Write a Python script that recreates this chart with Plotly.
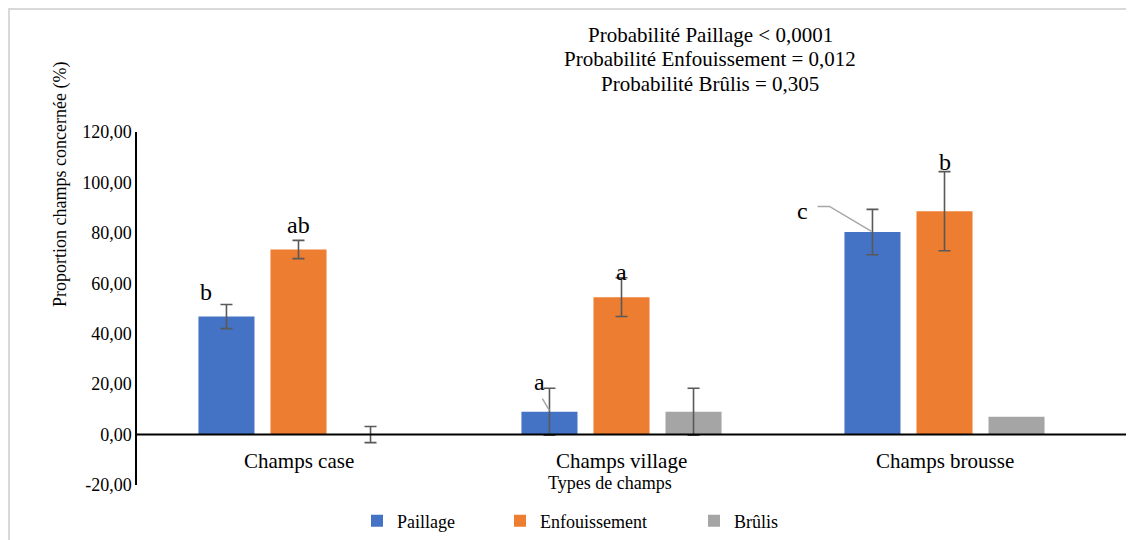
import plotly.graph_objects as go

categories = ["Champs case", "Champs village", "Champs brousse"]
series_names = ["Paillage", "Enfouissement", "Brûlis"]
paillage = [46.8, 9.1, 80.3]
paillage_err = [4.8, 9.3, 9.0]
enfouissement = [73.4, 54.5, 88.6]
enfouissement_err = [3.6, 7.7, 15.7]
brulis = [0.0, 9.1, 7.1]
brulis_err = [3.2, 9.3, "none"]   # no error bar on the last Brûlis bar
letters = ["b", "ab", "a", "a", "c", "b"]
prob_lines = ["Probabilité Paillage < 0,0001",
              "Probabilité Enfouissement = 0,012",
              "Probabilité Brûlis = 0,305"]
y_ticks = [-20, 0, 20, 40, 60, 80, 100, 120]
y_ticktext = [f"{v:.2f}".replace(".", ",") for v in y_ticks]

colors = ["#4472C4", "#ED7D31", "#A5A5A5"]
FONT = "Liberation Serif, Times New Roman, serif"

# the page body has an 8px margin: figure coords = screen coords - 8
OFF = 8
W, H = 1134 - OFF, 540 - OFF
# plot-area geometry in screen px
SL, SR, ST, SB = 137, 1106, 132, 485
L, R, T, B = SL - OFF, SR - OFF, ST - OFF, SB - OFF


def px_x(px):
    return (px - SL) / (SR - SL)


def px_y(py):
    return (SB - py) / (SB - ST)


fig = go.Figure()
vals = [paillage, enfouissement, brulis]
errs = [paillage_err, enfouissement_err, brulis_err]
legend_ids = ["legend", "legend2", "legend3"]
for name, v, e, c, lg in zip(series_names, vals, errs, colors, legend_ids):
    fig.add_trace(go.Bar(
        x=categories, y=v, name=name, marker=dict(color=c, line=dict(width=0)),
        error_y=dict(type="data", array=e, visible=True, color="#595959",
                     thickness=1.6, width=6),
        legend=lg,
    ))

annotations = []
# significance letters (positions: category index + offset, y in data units)
letter_pos = [(-0.285, 56.7), (0.0, 83.3), (0.746, 21.0), (1.0, 64.3), (1.56, 88.5), (2.0, 108.0)]
for t, (xx, yy) in zip(letters, letter_pos):
    annotations.append(dict(x=xx, y=yy, xref="x", yref="y", text=t, showarrow=False,
                            xanchor="center", yanchor="middle",
                            font=dict(family=FONT, size=24, color="black")))

# category labels inside plot area
for i, c in enumerate(categories):
    annotations.append(dict(x=i, y=(434 - 460) / 2.52, xref="x", yref="y", text=c,
                            showarrow=False, xanchor="center", yanchor="middle",
                            font=dict(family=FONT, size=21, color="black")))

annotations.append(dict(x=px_x(610), y=px_y(483), xref="paper", yref="paper",
                        text="Types de champs", showarrow=False,
                        xanchor="center", yanchor="middle",
                        font=dict(family=FONT, size=18, color="black")))
annotations.append(dict(x=px_x(60), y=px_y(185), xref="paper", yref="paper",
                        text="Proportion champs concernée (%)", textangle=-90, showarrow=False,
                        xanchor="center", yanchor="middle",
                        font=dict(family=FONT, size=18, color="black")))
for t, py in zip(prob_lines, [35, 59, 84]):
    annotations.append(dict(x=px_x(710), y=px_y(py), xref="paper", yref="paper",
                            text=t, showarrow=False, xanchor="center", yanchor="middle",
                            font=dict(family=FONT, size=21, color="black")))

shapes = [
    # zero line
    dict(type="line", xref="paper", yref="y", x0=0, x1=px_x(1133), y0=0, y1=0,
         line=dict(color="black", width=2)),
    # leader lines
    dict(type="line", xref="x", yref="y", x0=0.755, y0=14.3, x1=0.777, y1=9.5,
         line=dict(color="#A6A6A6", width=1.5)),
    dict(type="path", xref="x", yref="y", path="M 1.607 90.5 L 1.644 90.5 L 1.774 80.6",
         line=dict(color="#A6A6A6", width=1.5)),
    # outer frame (top and left edges)
    dict(type="line", xref="paper", yref="paper", x0=px_x(8), x1=px_x(1134),
         y0=px_y(9), y1=px_y(9), line=dict(color="#D9D9D9", width=2)),
    dict(type="line", xref="paper", yref="paper", x0=px_x(9), x1=px_x(9),
         y0=px_y(9), y1=px_y(540), line=dict(color="#D9D9D9", width=2)),
]

legend_common = dict(orientation="h", font=dict(family=FONT, size=18, color="black"),
                     yanchor="middle", xanchor="left", bgcolor="rgba(0,0,0,0)",
                     itemwidth=30, tracegroupgap=0)
fig.update_layout(
    width=W, height=H,
    margin=dict(l=L, r=W - R, t=T, b=H - B, autoexpand=False),
    paper_bgcolor="white", plot_bgcolor="white",
    barmode="group", bargap=0.331, bargroupgap=0.222,
    font=dict(family=FONT, color="black"),
    xaxis=dict(type="category", range=[-0.5, 2.5], showticklabels=False, showline=False,
               showgrid=False, zeroline=False, ticks=""),
    yaxis=dict(range=[-20, 120], tickvals=y_ticks, ticktext=y_ticktext, showgrid=False,
               zeroline=False, showline=True, linecolor="black", linewidth=1.5,
               ticks="", tickfont=dict(family=FONT, size=18, color="black")),
    annotations=annotations, shapes=shapes,
    legend=dict(x=px_x(357), y=px_y(521), **legend_common),
    legend2=dict(x=px_x(500), y=px_y(521), **legend_common),
    legend3=dict(x=px_x(694), y=px_y(521), **legend_common),
    showlegend=True,
)
fig.write_html("out.html")
